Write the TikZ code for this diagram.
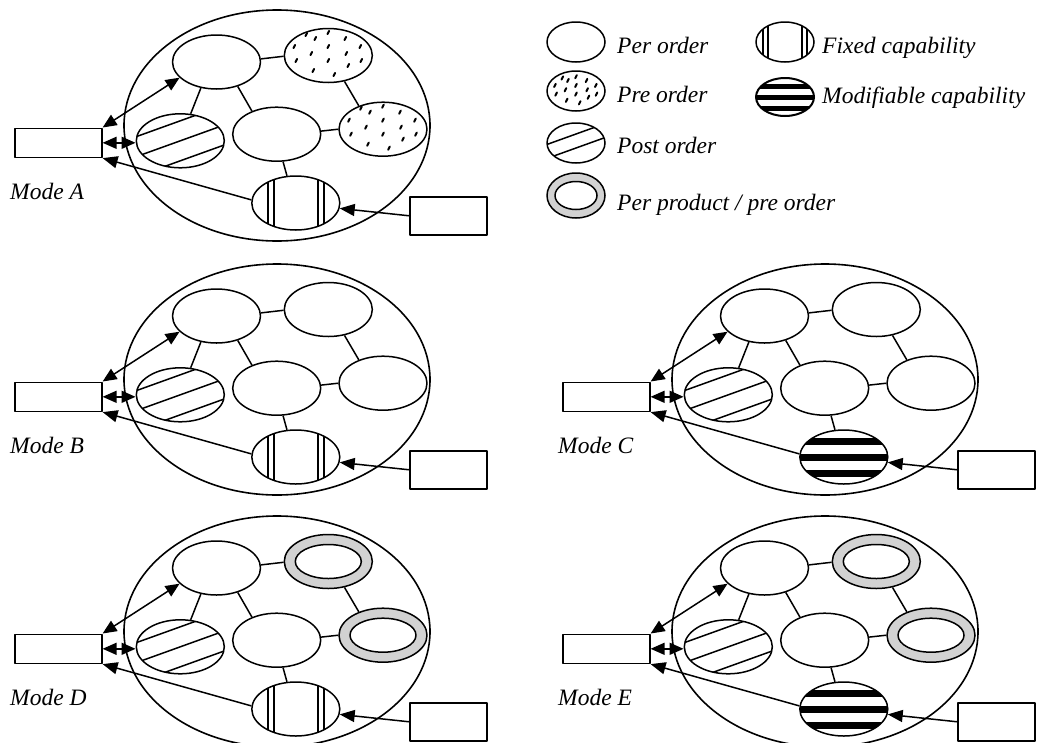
\documentclass[tikz,border=0pt]{standalone}
\usepackage{fontspec}
\setmainfont{Liberation Serif}
\usetikzlibrary{shapes.geometric,arrows.meta}
\tikzset{
 big/.style={ellipse, draw, line width=1.6pt, inner sep=0pt, minimum width=306pt, minimum height=231pt},
 sub/.style={ellipse, draw, line width=1.5pt, fill=white, inner sep=0pt, minimum width=88pt, minimum height=54pt},
 legell/.style={ellipse, draw, line width=1.5pt, fill=white, inner sep=0pt, minimum width=58pt, minimum height=40pt},
 box/.style={draw, line width=1.6pt, fill=white, inner sep=0pt, minimum width=87pt, minimum height=29pt},
 rbox/.style={box, minimum width=77pt, minimum height=38pt},
 link/.style={line width=1.5pt},
 arr/.style={line width=1.5pt, -{Triangle[length=15pt,width=12pt]}},
 darr/.style={line width=1.5pt, {Triangle[length=14pt,width=12pt]}-{Triangle[length=14pt,width=12pt]}},
 lab/.style={font=\fontsize{23.5}{28}\selectfont\itshape, inner sep=0pt, anchor=base west},
 postpat/.style={path picture={\foreach \k in {#1}{\draw[black,line width=1.5pt] ([shift={(-60,{\k+21.6})}]path picture bounding box.center) -- ++(120,-43.2);}}},
 fixpat/.style 2 args={path picture={\foreach \s in {-1,1}{\draw[black,line width=1.5pt] ([shift={({\s*#1},-40)}]path picture bounding box.center) -- ++(0,80); \draw[black,line width=1.5pt] ([shift={({\s*#2},-40)}]path picture bounding box.center) -- ++(0,80);}}},
 modpat/.style 2 args={path picture={\foreach \k in {-1,0,1}{\fill[black] ([shift={(-60,{\k*#1-#2/2})}]path picture bounding box.center) rectangle ++(120,#2);}}},
 dotpat/.style={path picture={\foreach \dx/\dy in {-22/-21,0/-23,-13/-17,17/-17,-34/-9,0/-9,32/-9,-17/-2,18/-2,-32/5,0/5,33/5,20/10,-15/15,6/19}{\draw[black,line width=2pt, line cap=round] ([shift={({#1*(\dx)-0.8},{#1*(\dy)+1.6})}]path picture bounding box.center) -- ++(1.6,-3.2);}}},
 ring/.style 2 args={fill=gray!35, path picture={\draw[black,line width=1.5pt, fill=white] (path picture bounding box.center) ellipse [x radius=#1, y radius=#2];}},
}
\newcommand\drawmode[6]{%
\begin{scope}[shift={(#2,#3)}]
\node[big] (#1big) at (277,125.5) {};
\node[sub] (#1e1) at (216.5,62) {};
\node[sub,#5] (#1e2) at (328.3,55.5) {};
\node[sub,postpat={-20,0,20}] (#1e3) at (180.3,140.8) {};
\node[sub] (#1e4) at (276.7,134.2) {};
\node[sub,#5] (#1e5) at (383,129.2) {};
\node[sub,#6] (#1e6) at (295.8,203) {};
\node[box] (#1l) at (58.3,142.8) {};
\node[rbox] (#1r) at (448.7,215.8) {};
\node[lab] (#1lab) at (10,199) {Mode #4};
\draw[link] (#1e1.4) -- (#1e2.181);
\draw[link] (#1e1.239) -- (#1e3.69);
\draw[link] (#1e1.311) -- (#1e4.137);
\draw[link] (#1e2.302) -- (#1e5.136);
\draw[link] (#1e4.4) -- (#1e5.180);
\draw[link] (#1e4.283) -- (#1e6.108);
\draw[darr] (#1e1.203) -- (#1l.north east);
\draw[darr] (#1e3.west |- #1l.east) -- (#1l.east);
\draw[arr] (#1e6.176) -- (#1l.south east);
\draw[arr] (#1r.west) -- (#1e6.353);
\end{scope}}
\begin{document}
\begin{tikzpicture}[x=1pt,y=-1pt,line join=round]
\useasboundingbox[fill=white] (0,0) rectangle (1040,742);
\drawmode{A}{0}{0}{A}{dotpat=1}{fixpat={22}{28}}
\drawmode{B}{0}{254}{B}{}{fixpat={22}{28}}
\drawmode{C}{548}{254}{C}{}{modpat={16}{7}}
\drawmode{D}{0}{506}{D}{ring={33pt}{17pt}}{fixpat={22}{28}}
\drawmode{E}{548}{506}{E}{ring={33pt}{17pt}}{modpat={16}{7}}
% legend
\node[legell] (lg1) at (576,42) {};
\node[lab] (lt1) at (617,53) {Per order};
\node[legell,dotpat=0.62] (lg2) at (576,91) {};
\node[lab] (lt2) at (617,102) {Pre order};
\node[legell,postpat={-9,5}] (lg3) at (576,143) {};
\node[lab] (lt3) at (617,153) {Post order};
\node[legell,minimum height=45pt,ring={21pt}{14pt}] (lg4) at (576,195.5) {};
\node[lab] (lt4) at (617,210) {Per product / pre order};
\node[legell,fixpat={17}{22}] (lg5) at (785,42) {};
\node[lab] (lt5) at (822,53) {Fixed capability};
\node[legell,line width=2pt,minimum height=38pt,modpat={11}{5}] (lg6) at (785,97) {};
\node[lab] (lt6) at (822,103) {Modifiable capability};
\end{tikzpicture}
\end{document}
